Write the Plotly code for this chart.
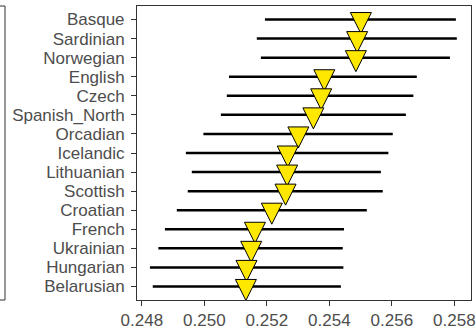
import plotly.graph_objects as go

categories = ["Basque", "Sardinian", "Norwegian", "English", "Czech", "Spanish_North",
              "Orcadian", "Icelandic", "Lithuanian", "Scottish", "Croatian", "French",
              "Ukrainian", "Hungarian", "Belarusian"]
estimate = [0.25501, 0.25489, 0.25485, 0.25384, 0.25374, 0.25349, 0.25301, 0.25267,
            0.25265, 0.25260, 0.25216, 0.25162, 0.25150, 0.25135, 0.25133]
lower = [0.25194, 0.25168, 0.25181, 0.25079, 0.25072, 0.25053, 0.24997, 0.24941,
         0.24960, 0.24947, 0.24912, 0.24874, 0.24853, 0.24826, 0.24835]
upper = [0.25805, 0.25808, 0.25786, 0.25680, 0.25669, 0.25645, 0.25603, 0.25589,
         0.25565, 0.25571, 0.25520, 0.25447, 0.25443, 0.25445, 0.25437]
x_ticks = [0.248, 0.250, 0.252, 0.254, 0.256, 0.258]

plus = [u - e for u, e in zip(upper, estimate)]
minus = [e - l for e, l in zip(estimate, lower)]

fig = go.Figure()
fig.add_trace(go.Scatter(
    x=estimate, y=categories, mode="markers",
    error_x=dict(type="data", symmetric=False, array=plus, arrayminus=minus,
                 width=0, thickness=2.5, color="black"),
    marker=dict(symbol="arrow-down", size=21, standoff=14, color="#FFE800",
                line=dict(color="black", width=1)),
    showlegend=False, hoverinfo="skip", cliponaxis=False,
))

axis_font = dict(family="Liberation Sans, Arial, sans-serif", size=17, color="#4D4D4D")
fig.update_layout(
    width=476, height=334,
    margin=dict(l=137, r=5, t=6, b=34, autoexpand=False),
    paper_bgcolor="white", plot_bgcolor="white",
    xaxis=dict(range=[0.247846, 0.258534], tickmode="array", tickvals=x_ticks,
               tickformat=".3f", automargin=False,
               showgrid=False, zeroline=False, showline=True, mirror=True,
               linecolor="#333333", linewidth=1, ticks="outside", ticklen=5,
               tickwidth=1, tickcolor="#333333", tickfont=axis_font,
               ticklabelstandoff=0),
    yaxis=dict(type="category", categoryorder="array", categoryarray=categories,
               tickmode="array", tickvals=categories, automargin=False,
               range=[14.71, -0.71], showgrid=False, zeroline=False, showline=True,
               mirror=True, linecolor="#333333", linewidth=1, ticks="outside",
               ticklen=5, tickwidth=1, tickcolor="#333333", tickfont=axis_font,
               ticklabelstandoff=3),
    shapes=[dict(type="rect", xref="paper", yref="paper", x0=-0.5, x1=-0.3952,
                 y0=0, y1=1, line=dict(color="#333333", width=1), fillcolor="rgba(0,0,0,0)")],
)
fig.write_html("out.html", config={"displayModeBar": False},
               post_script="document.body.style.margin='0';document.body.style.overflow='hidden';")
